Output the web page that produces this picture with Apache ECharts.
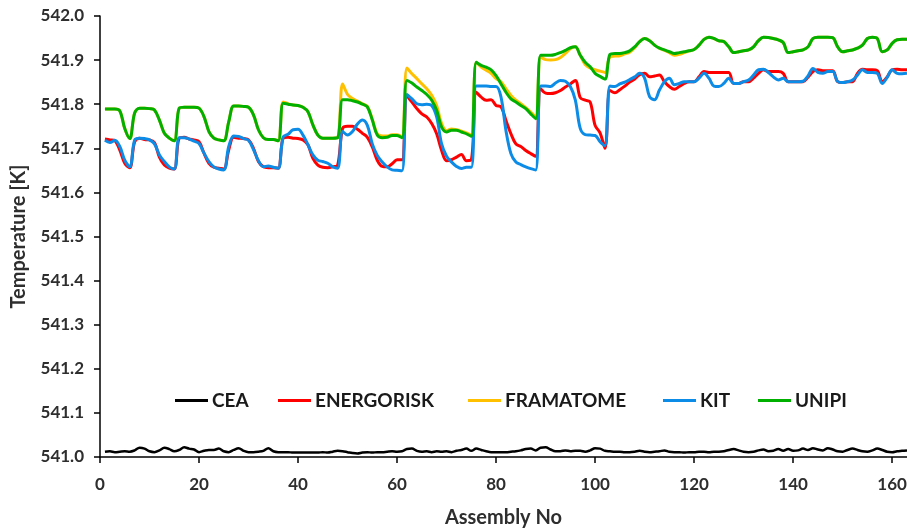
<!DOCTYPE html>
<html>
<head>
<meta charset="utf-8">
<script src="https://cdn.jsdelivr.net/npm/echarts@6/dist/echarts.min.js"></script>
<style>
  html, body { margin: 0; padding: 0; background: #fff; }
  #chart { width: 907px; height: 528px; }
</style>
</head>
<body>
<div id="chart"></div>
<script>
// Coolant outlet temperature per fuel assembly, five participants
const seriesNames = ['CEA', 'ENERGORISK', 'FRAMATOME', 'KIT', 'UNIPI'];
const seriesColors = ['#000000', '#FF0000', '#FFC000', '#0C8CE6', '#00B000'];

const xTicks = [0, 20, 40, 60, 80, 100, 120, 140, 160];
const yTicks = [541.0, 541.1, 541.2, 541.3, 541.4, 541.5, 541.6, 541.7, 541.8, 541.9, 542.0];

const cea = [
  541.012, 541.013, 541.011, 541.012, 541.013, 541.012, 541.015, 541.021, 541.019, 541.013,
  541.011, 541.015, 541.021, 541.018, 541.013, 541.016, 541.022, 541.019, 541.017, 541.011,
  541.014, 541.016, 541.016, 541.019, 541.013, 541.011, 541.016, 541.020, 541.014, 541.011,
  541.011, 541.012, 541.014, 541.020, 541.013, 541.011, 541.011, 541.011, 541.010, 541.010,
  541.010, 541.010, 541.010, 541.010, 541.011, 541.010, 541.012, 541.014, 541.013, 541.011,
  541.009, 541.008, 541.010, 541.011, 541.010, 541.011, 541.011, 541.012, 541.013, 541.012,
  541.013, 541.018, 541.019, 541.014, 541.012, 541.013, 541.011, 541.013, 541.012, 541.013,
  541.011, 541.014, 541.016, 541.019, 541.014, 541.019, 541.016, 541.013, 541.011, 541.011,
  541.011, 541.011, 541.012, 541.013, 541.015, 541.018, 541.019, 541.015, 541.021, 541.022,
  541.017, 541.013, 541.013, 541.015, 541.013, 541.014, 541.014, 541.012, 541.015, 541.020,
  541.019, 541.014, 541.013, 541.012, 541.012, 541.011, 541.011, 541.012, 541.014, 541.012,
  541.011, 541.012, 541.013, 541.015, 541.012, 541.011, 541.011, 541.010, 541.011, 541.011,
  541.012, 541.012, 541.011, 541.012, 541.012, 541.013, 541.016, 541.018, 541.015, 541.012,
  541.011, 541.012, 541.015, 541.017, 541.013, 541.014, 541.018, 541.014, 541.018, 541.014,
  541.015, 541.019, 541.016, 541.020, 541.017, 541.015, 541.020, 541.017, 541.013, 541.012,
  541.016, 541.019, 541.016, 541.013, 541.012, 541.015, 541.019, 541.016, 541.012, 541.011,
  541.013, 541.014, 541.015
];

const energorisk = [
  541.721, 541.719, 541.717, 541.696, 541.666, 541.656, 541.715, 541.723, 541.720, 541.719,
  541.713, 541.680, 541.662, 541.655, 541.653, 541.723, 541.725, 541.721, 541.719, 541.715,
  541.689, 541.666, 541.657, 541.655, 541.653, 541.696, 541.725, 541.723, 541.722, 541.719,
  541.700, 541.670, 541.658, 541.656, 541.656, 541.655, 541.723, 541.725, 541.723, 541.722,
  541.719, 541.708, 541.677, 541.662, 541.657, 541.656, 541.658, 541.662, 541.745, 541.750,
  541.750, 541.743, 541.734, 541.725, 541.703, 541.673, 541.659, 541.658, 541.665, 541.674,
  541.674, 541.818, 541.805, 541.790, 541.778, 541.771, 541.756, 541.733, 541.695, 541.672,
  541.674, 541.680, 541.686, 541.672, 541.674, 541.827, 541.816, 541.809, 541.810, 541.797,
  541.794, 541.763, 541.733, 541.710, 541.704, 541.695, 541.688, 541.682, 541.835, 541.825,
  541.824, 541.826, 541.831, 541.839, 541.846, 541.854, 541.815, 541.809, 541.805, 541.752,
  541.735, 541.700, 541.831, 541.826, 541.833, 541.841, 541.850, 541.857, 541.867, 541.870,
  541.862, 541.864, 541.866, 541.851, 541.840, 541.834, 541.840, 541.847, 541.851, 541.851,
  541.862, 541.874, 541.872, 541.872, 541.872, 541.872, 541.872, 541.847, 541.847, 541.851,
  541.851, 541.859, 541.870, 541.878, 541.874, 541.874, 541.874, 541.870, 541.851, 541.851,
  541.851, 541.851, 541.861, 541.874, 541.878, 541.876, 541.876, 541.876, 541.851, 541.849,
  541.851, 541.851, 541.870, 541.879, 541.878, 541.878, 541.876, 541.851, 541.862, 541.878,
  541.879, 541.878, 541.878
];

const framatome = [
  541.789, 541.789, 541.789, 541.785, 541.745, 541.722, 541.780, 541.791, 541.791, 541.790,
  541.787, 541.764, 541.734, 541.723, 541.717, 541.791, 541.793, 541.793, 541.793, 541.791,
  541.772, 541.738, 541.723, 541.719, 541.717, 541.760, 541.796, 541.796, 541.795, 541.793,
  541.776, 541.742, 541.724, 541.720, 541.720, 541.717, 541.805, 541.801, 541.798, 541.797,
  541.793, 541.783, 541.753, 541.730, 541.723, 541.723, 541.723, 541.724, 541.846, 541.822,
  541.813, 541.807, 541.801, 541.795, 541.766, 541.733, 541.728, 541.728, 541.731, 541.731,
  541.727, 541.882, 541.869, 541.858, 541.846, 541.835, 541.820, 541.797, 541.756, 541.740,
  541.744, 541.742, 541.739, 541.735, 541.730, 541.895, 541.884, 541.877, 541.870, 541.858,
  541.851, 541.835, 541.820, 541.809, 541.801, 541.792, 541.782, 541.771, 541.907, 541.901,
  541.900, 541.901, 541.906, 541.915, 541.926, 541.930, 541.911, 541.890, 541.882, 541.878,
  541.875, 541.872, 541.907, 541.909, 541.910, 541.914, 541.918, 541.928, 541.942, 541.949,
  541.944, 541.934, 541.927, 541.922, 541.917, 541.911, 541.913, 541.917, 541.921, 541.924,
  541.934, 541.947, 541.952, 541.949, 541.944, 541.942, 541.930, 541.917, 541.919, 541.921,
  541.923, 541.930, 541.944, 541.952, 541.951, 541.949, 541.946, 541.940, 541.917, 541.919,
  541.921, 541.923, 541.930, 541.949, 541.952, 541.952, 541.952, 541.951, 541.930, 541.919,
  541.921, 541.923, 541.927, 541.934, 541.949, 541.952, 541.949, 541.919, 541.923, 541.938,
  541.946, 541.947, 541.947
];

const kit = [
  541.718, 541.713, 541.718, 541.704, 541.673, 541.658, 541.719, 541.723, 541.722, 541.719,
  541.710, 541.685, 541.670, 541.658, 541.653, 541.724, 541.724, 541.721, 541.716, 541.711,
  541.689, 541.670, 541.658, 541.653, 541.651, 541.704, 541.728, 541.727, 541.722, 541.718,
  541.697, 541.672, 541.658, 541.660, 541.657, 541.655, 541.726, 541.732, 541.742, 541.743,
  541.730, 541.708, 541.685, 541.673, 541.670, 541.666, 541.658, 541.655, 541.738, 541.730,
  541.738, 541.755, 541.764, 541.752, 541.710, 541.684, 541.669, 541.658, 541.651, 541.650,
  541.649, 541.822, 541.812, 541.801, 541.799, 541.800, 541.797, 541.771, 541.710, 541.682,
  541.669, 541.659, 541.654, 541.657, 541.657, 541.841, 541.841, 541.841, 541.840, 541.840,
  541.816, 541.740, 541.688, 541.669, 541.663, 541.658, 541.654, 541.651, 541.841, 541.841,
  541.840, 541.848, 541.854, 541.852, 541.840, 541.810, 541.745, 541.731, 541.730, 541.729,
  541.715, 541.706, 541.841, 541.840, 541.846, 541.850, 541.856, 541.862, 541.870, 541.859,
  541.817, 541.810, 541.832, 541.851, 541.859, 541.844, 541.847, 541.851, 541.851, 541.851,
  541.859, 541.870, 541.859, 541.841, 541.840, 541.847, 541.859, 541.847, 541.847, 541.851,
  541.855, 541.866, 541.878, 541.879, 541.872, 541.862, 541.855, 541.859, 541.851, 541.851,
  541.851, 541.852, 541.864, 541.881, 541.872, 541.870, 541.874, 541.874, 541.851, 541.849,
  541.851, 541.855, 541.866, 541.878, 541.872, 541.872, 541.870, 541.847, 541.861, 541.878,
  541.870, 541.869, 541.870
];

const unipi = [
  541.789, 541.789, 541.789, 541.785, 541.745, 541.722, 541.780, 541.791, 541.791, 541.790,
  541.787, 541.764, 541.734, 541.723, 541.717, 541.791, 541.793, 541.793, 541.793, 541.791,
  541.772, 541.738, 541.723, 541.719, 541.717, 541.760, 541.796, 541.796, 541.795, 541.793,
  541.776, 541.742, 541.724, 541.720, 541.720, 541.717, 541.802, 541.800, 541.798, 541.797,
  541.793, 541.783, 541.753, 541.730, 541.723, 541.723, 541.723, 541.724, 541.810, 541.810,
  541.808, 541.805, 541.800, 541.794, 541.764, 541.730, 541.724, 541.725, 541.729, 541.729,
  541.724, 541.854, 541.848, 541.839, 541.831, 541.822, 541.809, 541.786, 541.748, 541.737,
  541.741, 541.741, 541.737, 541.733, 541.727, 541.895, 541.888, 541.884, 541.878, 541.865,
  541.846, 541.827, 541.812, 541.805, 541.797, 541.790, 541.778, 541.767, 541.911, 541.911,
  541.911, 541.913, 541.917, 541.922, 541.928, 541.930, 541.911, 541.895, 541.885, 541.870,
  541.863, 541.857, 541.913, 541.915, 541.915, 541.917, 541.921, 541.930, 541.942, 541.949,
  541.944, 541.934, 541.927, 541.923, 541.919, 541.915, 541.917, 541.919, 541.921, 541.924,
  541.934, 541.947, 541.952, 541.949, 541.944, 541.942, 541.930, 541.917, 541.919, 541.921,
  541.923, 541.930, 541.944, 541.952, 541.951, 541.949, 541.946, 541.940, 541.917, 541.919,
  541.921, 541.923, 541.930, 541.949, 541.952, 541.952, 541.952, 541.951, 541.930, 541.919,
  541.921, 541.923, 541.927, 541.934, 541.949, 541.952, 541.949, 541.919, 541.923, 541.938,
  541.946, 541.947, 541.947
];

const seriesValues = [cea, energorisk, framatome, kit, unipi];
const legendLeft = [175, 278, 468, 663, 758];

const FONT = 'Lato, "Open Sans", sans-serif';
const labelColor = '#2e2e2e';

function toPairs(values) {
  return values.map((v, i) => [i + 1, v]);
}

const chart = echarts.init(document.getElementById('chart'), null, { renderer: 'canvas' });

chart.setOption({
  animation: false,
  backgroundColor: '#ffffff',
  grid: { left: 100, right: 0, top: 16, bottom: 71, containLabel: false, outerBoundsMode: 'none' },
  legend: seriesNames.map((name, i) => ({
    data: [name],
    left: legendLeft[i],
    top: 391,
    icon: 'rect',
    itemWidth: 33,
    itemHeight: 3,
    itemGap: 0,
    padding: 0,
    textStyle: { fontFamily: FONT, fontWeight: 'bold', fontSize: 19, color: '#1a1a1a', padding: [0, 0, 0, -1] }
  })),
  xAxis: {
    type: 'value',
    min: 0,
    max: 163,
    interval: 20,
    name: 'Assembly No',
    nameLocation: 'middle',
    nameGap: 51,
    nameTextStyle: { fontFamily: FONT, fontWeight: 'bold', fontSize: 20, color: labelColor },
    axisLine: { show: true, lineStyle: { color: '#000', width: 1.5 } },
    axisTick: { show: true, length: 6, customValues: xTicks, lineStyle: { color: '#000', width: 1.5 } },
    axisLabel: { customValues: xTicks, margin: 19, fontFamily: FONT, fontWeight: 'bold', fontSize: 17, color: labelColor },
    splitLine: { show: false }
  },
  yAxis: {
    type: 'value',
    min: 541.0,
    max: 542.0,
    interval: 0.1,
    name: 'Temperature [K]',
    nameLocation: 'middle',
    nameGap: 71,
    nameTextStyle: { fontFamily: FONT, fontWeight: 'bold', fontSize: 20, color: labelColor },
    axisLine: { show: true, lineStyle: { color: '#000', width: 1.5 } },
    axisTick: { show: true, length: 6, customValues: yTicks, lineStyle: { color: '#000', width: 1.5 } },
    axisLabel: {
      customValues: yTicks,
      margin: 16,
      fontFamily: FONT, fontWeight: 'bold', fontSize: 17, color: labelColor,
      formatter: v => v.toFixed(1)
    },
    splitLine: { show: false }
  },
  series: seriesNames.map((name, i) => ({
    name,
    type: 'line',
    data: toPairs(seriesValues[i]),
    symbol: 'none',
    smooth: 0.35,
    clip: true,
    lineStyle: { color: seriesColors[i], width: i === 0 ? 2.5 : 3 },
    itemStyle: { color: seriesColors[i] }
  }))
});
</script>
</body>
</html>
